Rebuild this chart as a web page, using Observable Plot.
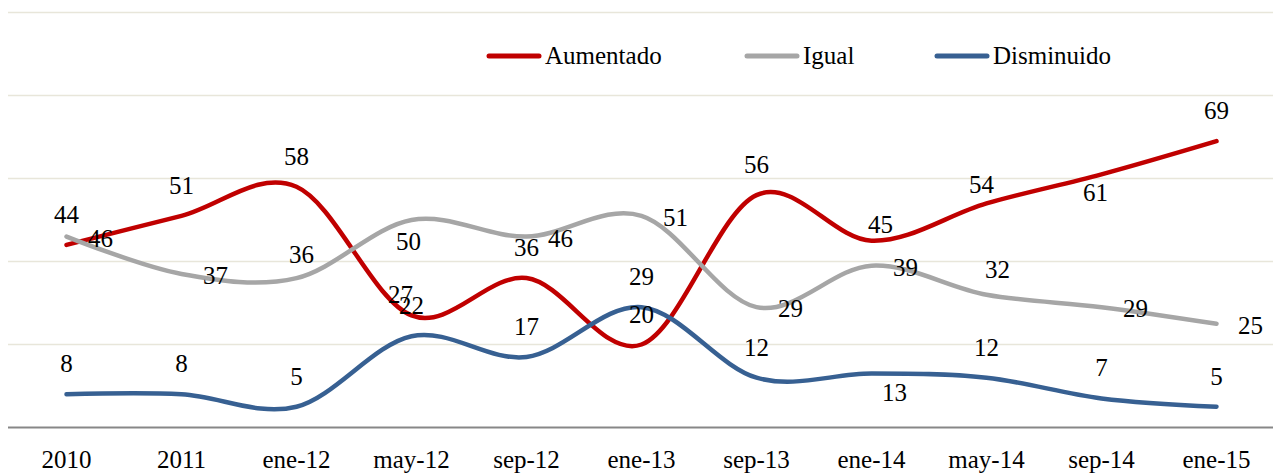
<!DOCTYPE html>
<html>
<head>
<meta charset="utf-8">
<script src="https://cdn.jsdelivr.net/npm/d3@7"></script>
<script src="https://cdn.jsdelivr.net/npm/@observablehq/plot@0.6"></script>
<style>
  html, body { margin: 0; padding: 0; background: #fff; }
  #wrap { position: relative; width: 1274px; height: 474px; font-family: "Liberation Serif", "Times New Roman", serif; }
  .legend-item { position: absolute; top: 40px; height: 32px; display: flex; align-items: center; font-size: 25px; color: #000; white-space: nowrap; }
  .legend-item svg { margin-right: 3px; }
</style>
</head>
<body>
<div id="wrap"></div>
<script>
// ---- data ----
const categories = ["2010", "2011", "ene-12", "may-12", "sep-12", "ene-13", "sep-13", "ene-14", "may-14", "sep-14", "ene-15"];
const seriesNames = ["Aumentado", "Igual", "Disminuido"];
const aumentado  = [44, 51, 58, 27, 36, 20, 56, 45, 54, 61, 69];
const igual      = [46, 37, 36, 50, 46, 51, 29, 39, 32, 29, 25];
const disminuido = [8, 8, 5, 22, 17, 29, 12, 13, 12, 7, 5];

// label placement names (style, not data)
const aumentadoPlace  = ["above","above","above","upLeft","above","above","above","upRight","upNear","belowA","above"];
const igualPlace      = ["right","right","upSlight","belowI","right","right","right","right","upRightI","right","right"];
const disminuidoPlace = ["above","above","above","above","above","above","above","belowRight","above","above","above"];

const placeOffsets = {
  above: [0, -30], right: [34, 2], upLeft: [-11, -20], upRight: [9, -16], upNear: [-5, -18],
  belowA: [-6, 19], upSlight: [5, -23], belowI: [-3, 22], upRightI: [11, -25], belowRight: [23, 19]
};
const colors = { Aumentado: "#C00000", Igual: "#A6A6A6", Disminuido: "#376092" };

const seriesValues = { Aumentado: aumentado, Igual: igual, Disminuido: disminuido };
const seriesPlaces = { Aumentado: aumentadoPlace, Igual: igualPlace, Disminuido: disminuidoPlace };

const rows = [];
for (const s of seriesNames) {
  categories.forEach((c, i) => rows.push({ cat: c, value: seriesValues[s][i], series: s, place: seriesPlaces[s][i] }));
}

const lineMarks = seriesNames.map(s =>
  Plot.line(rows.filter(d => d.series === s), {
    x: "cat", y: "value", stroke: colors[s], strokeWidth: 4.5, curve: "cardinal",
    strokeLinecap: "round", strokeLinejoin: "round"
  })
);

const labelMarks = [];
for (const s of seriesNames) {
  const places = [...new Set(seriesPlaces[s])];
  for (const p of places) {
    const [dx, dy] = placeOffsets[p];
    labelMarks.push(Plot.text(rows.filter(d => d.series === s && d.place === p), {
      x: "cat", y: "value", text: d => String(d.value), dx, dy,
      fontSize: 25, fill: "#000", fontFamily: "Liberation Serif"
    }));
  }
}

const chart = Plot.plot({
  width: 1274,
  height: 474,
  marginTop: 12,
  marginBottom: 47,
  marginLeft: 8,
  marginRight: 1,
  style: { fontFamily: "Liberation Serif", background: "#fff", color: "#000" },
  x: { type: "point", domain: categories, padding: 0.5, label: null },
  y: { domain: [0, 100], axis: null },
  marks: [
    Plot.ruleY([20, 40, 60, 80, 100], { stroke: "#E8E6DA", strokeWidth: 1.5 }),
    Plot.ruleY([0], { stroke: "#878787", strokeWidth: 2 }),
    Plot.axisX({ tickSize: 0, tickPadding: 23, fontSize: 25, label: null, fill: "#000" }),
    ...lineMarks,
    ...labelMarks
  ]
});

const wrap = document.getElementById("wrap");
wrap.appendChild(chart);

// legend overlay
const legendLeft = { Aumentado: 486, Igual: 744, Disminuido: 934 };
for (const s of seriesNames) {
  const item = document.createElement("div");
  item.className = "legend-item";
  item.style.left = legendLeft[s] + "px";
  item.innerHTML = `<svg width="56" height="10"><line x1="3" y1="5" x2="53" y2="5" stroke="${colors[s]}" stroke-width="5" stroke-linecap="round"/></svg><span>${s}</span>`;
  wrap.appendChild(item);
}
</script>
</body>
</html>
